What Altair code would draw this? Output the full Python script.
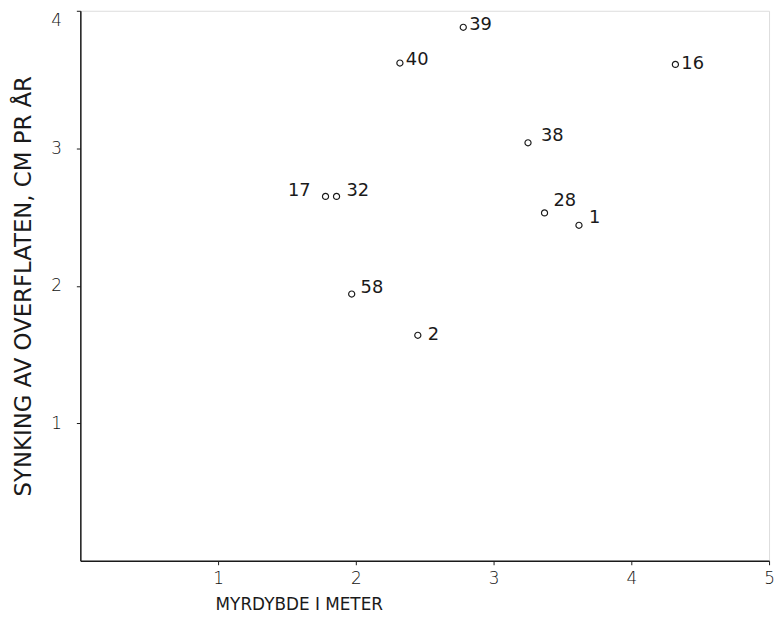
import altair as alt
import pandas as pd

# Data
labels = ["39", "40", "16", "17", "32", "38", "28", "1", "58", "2"]
depth = [2.78, 2.32, 4.32, 1.78, 1.86, 3.25, 3.37, 3.62, 1.97, 2.45]
sinking = [3.88, 3.62, 3.61, 2.65, 2.65, 3.04, 2.53, 2.44, 1.94, 1.64]

x_ticks = [1, 2, 3, 4, 5]
y_ticks = [1, 2, 3, 4]

x_title = "MYRDYBDE I METER"
y_title = "SYNKING AV OVERFLATEN, CM PR ÅR"

# label placement (pixels relative to the point): dx, dy, align
label_place = {
    "39": (6, -2, "left"),
    "40": (6, -3, "left"),
    "16": (6, 0, "left"),
    "17": (-15, -5, "right"),
    "32": (10, -5, "left"),
    "38": (13, -7, "left"),
    "28": (9, -12, "left"),
    "1": (10, -7, "left"),
    "58": (9, -6, "left"),
    "2": (10, 0, "left"),
}

df = pd.DataFrame({"label": labels, "depth": depth, "sinking": sinking})

FONT = "DejaVu Sans"
INK = "#1a1a1a"

x_enc = alt.X(
    "depth:Q",
    scale=alt.Scale(domain=[0, 5], nice=False, zero=True),
    axis=alt.Axis(
        values=x_ticks,
        format="d",
        title=x_title,
        titleX=136,
        titleY=44,
        titleAlign="left",
        titleBaseline="middle",
        titleFontSize=17,
        titleFont=FONT,
        titleFontWeight="normal",
        titleColor=INK,
        labelFontSize=17,
        labelFont=FONT,
        labelFontWeight=200,
        labelColor="#111111",
        labelPadding=6,
        tickSize=4,
        tickColor=INK,
        domainColor=INK,
        domainWidth=1.3,
        grid=False,
        labelFlush=False,
    ),
)
y_enc = alt.Y(
    "sinking:Q",
    scale=alt.Scale(domain=[0, 4], nice=False, zero=True),
    axis=alt.Axis(
        values=y_ticks,
        format="d",
        title=y_title,
        titleX=-57,
        titleBaseline="middle",
        titleFontSize=23,
        titleFont=FONT,
        titleFontWeight="normal",
        titleColor=INK,
        labelFontSize=17,
        labelFont=FONT,
        labelFontWeight=200,
        labelColor="#111111",
        labelPadding=15,
        labelOffset={"condition": {"test": "datum.value === 4", "value": 10}, "value": 0},
        tickSize=4,
        tickColor=INK,
        domainColor=INK,
        domainWidth=1.5,
        grid=False,
        labelFlush=False,
    ),
)

base = alt.Chart(df)

points = base.mark_point(
    shape="circle", filled=False, size=38, strokeWidth=1.2, color=INK, opacity=1
).encode(x=x_enc, y=y_enc)

layers = [points]
for lab, (dx, dy, align) in label_place.items():
    layers.append(
        base.transform_filter(alt.datum.label == lab)
        .mark_text(
            dx=dx, dy=dy, align=align, baseline="middle",
            fontSize=18, font=FONT, fontWeight="normal", color=INK,
        )
        .encode(x="depth:Q", y="sinking:Q", text="label:N")
    )

chart = alt.layer(*layers).properties(
    width=695,
    height=555,
    autosize=alt.AutoSizeParams(type="none"),
    padding={"left": 73, "top": 0, "right": 6, "bottom": 62},
).configure_view(stroke=None).configure(background="white")

chart.save("out.html", embed_options={"renderer": "svg", "actions": False})
